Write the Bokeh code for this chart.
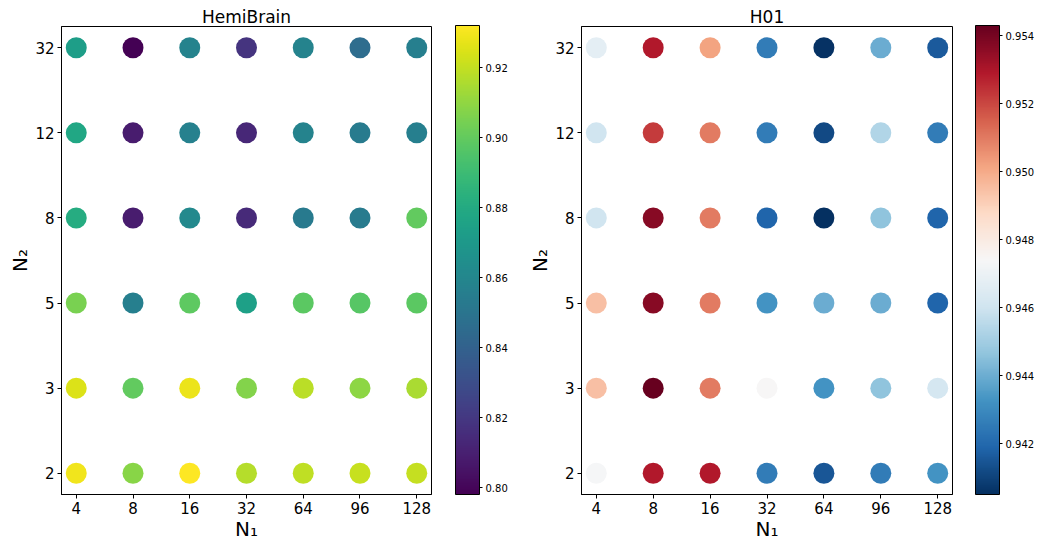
import numpy as np
from bokeh.plotting import figure
from bokeh.models import (LinearColorMapper, ColorBar, FixedTicker,
                          PrintfTickFormatter, ColumnDataSource, Range1d)
from bokeh.layouts import row
from bokeh.palettes import Viridis256
from bokeh.embed import file_html
from bokeh.resources import INLINE

n1_labels = ["4", "8", "16", "32", "64", "96", "128"]
n2_labels = ["2", "3", "5", "8", "12", "32"]

# HemiBrain values, one list per N2 row (columns follow n1_labels)
hemi_n2_32 = [0.873, 0.798, 0.858, 0.818, 0.858, 0.846, 0.856]
hemi_n2_12 = [0.878, 0.808, 0.857, 0.813, 0.858, 0.854, 0.856]
hemi_n2_8 = [0.881, 0.808, 0.861, 0.814, 0.853, 0.854, 0.900]
hemi_n2_5 = [0.905, 0.856, 0.899, 0.874, 0.898, 0.897, 0.898]
hemi_n2_3 = [0.925, 0.900, 0.928, 0.907, 0.918, 0.909, 0.915]
hemi_n2_2 = [0.929, 0.908, 0.932, 0.917, 0.919, 0.921, 0.920]

# H01 values, one list per N2 row
h01_n2_32 = [0.9467, 0.9529, 0.9502, 0.9426, 0.9406, 0.9440, 0.9416]
h01_n2_12 = [0.9460, 0.9522, 0.9510, 0.9426, 0.9412, 0.9453, 0.9426]
h01_n2_8 = [0.9460, 0.9537, 0.9510, 0.9419, 0.9405, 0.9446, 0.9419]
h01_n2_5 = [0.9495, 0.9537, 0.9510, 0.9433, 0.9440, 0.9440, 0.9419]
h01_n2_3 = [0.9495, 0.9543, 0.9510, 0.9474, 0.9433, 0.9446, 0.9462]
h01_n2_2 = [0.9473, 0.9529, 0.9529, 0.9426, 0.9415, 0.9426, 0.9433]

hemi_ticks = [0.80, 0.82, 0.84, 0.86, 0.88, 0.90, 0.92]
h01_ticks = [0.942, 0.944, 0.946, 0.948, 0.950, 0.952, 0.954]

hemi_rows = {"2": hemi_n2_2, "3": hemi_n2_3, "5": hemi_n2_5,
             "8": hemi_n2_8, "12": hemi_n2_12, "32": hemi_n2_32}
h01_rows = {"2": h01_n2_2, "3": h01_n2_3, "5": h01_n2_5,
            "8": h01_n2_8, "12": h01_n2_12, "32": h01_n2_32}

# RdBu_r palette interpolated to 256 colours
rdbu_r_base = ["#053061", "#2166ac", "#4393c3", "#92c5de", "#d1e5f0", "#f7f7f7",
               "#fddbc7", "#f4a582", "#d6604d", "#b2182b", "#67001f"]


def interp(base, n=256):
    rgb = np.array([[int(c[i:i + 2], 16) for i in (1, 3, 5)] for c in base], float)
    t = np.linspace(0, 1, len(base))
    tt = np.linspace(0, 1, n)
    out = []
    for v in tt:
        r, g, b = (np.interp(v, t, rgb[:, k]) for k in range(3))
        out.append("#%02x%02x%02x" % (int(round(r)), int(round(g)), int(round(b))))
    return out


RdBu_r256 = interp(rdbu_r_base)

FONT = "DejaVu Sans"
W, H = 519, 543
TOP, BOTTOM = 26, 48


def make_panel(title, rows, palette, low, high, ticks, fmt, border_left, border_right, cb_off):
    xs, ys, vals = [], [], []
    for j, n2 in enumerate(n2_labels):
        for i, v in enumerate(rows[n2]):
            xs.append(i)
            ys.append(j)
            vals.append(v)
    src = ColumnDataSource(dict(x=xs, y=ys, v=vals))
    mapper = LinearColorMapper(palette=palette, low=low, high=high)

    nx, ny = len(n1_labels), len(n2_labels)
    p = figure(x_range=Range1d(-0.26, nx - 1 + 0.26),
               y_range=Range1d(-0.25, ny - 1 + 0.25),
               width=W, height=H,
               min_border_left=border_left, min_border_top=TOP,
               min_border_bottom=BOTTOM, min_border_right=border_right,
               output_backend="svg", toolbar_location=None,
               title=title)
    p.scatter("x", "y", source=src, size=21, line_color=None,
              fill_color={"field": "v", "transform": mapper})

    p.title.text_font = FONT
    p.title.text_font_size = "17px"
    p.title.text_font_style = "normal"
    p.title.align = "center"
    p.title.text_color = "black"
    p.title.standoff = 0

    p.xgrid.visible = False
    p.ygrid.visible = False
    p.outline_line_color = "black"
    p.outline_line_width = 1

    p.xaxis.ticker = FixedTicker(ticks=list(range(nx)))
    p.xaxis.major_label_overrides = {i: s for i, s in enumerate(n1_labels)}
    p.yaxis.ticker = FixedTicker(ticks=list(range(ny)))
    p.yaxis.major_label_overrides = {j: s for j, s in enumerate(n2_labels)}

    for ax, lab in ((p.xaxis, "N\u2081"), (p.yaxis, "N\u2082")):
        ax.axis_label = lab
        ax.axis_label_text_font = FONT
        ax.axis_label_text_font_size = "20px"
        ax.axis_label_text_font_style = "normal"
        ax.axis_label_text_color = "black"
        ax.major_label_text_font = FONT
        ax.major_label_text_font_size = "15px"
        ax.major_label_text_color = "black"
        ax.axis_line_color = "black"
        ax.major_tick_line_color = "black"
        ax.major_tick_in = 0
        ax.major_tick_out = 4
        ax.minor_tick_line_color = None
        ax.major_label_standoff = 3
        ax.axis_label_standoff = 0

    frame_w = W - border_left - border_right
    frame_h = H - TOP - BOTTOM
    cb = ColorBar(color_mapper=mapper, ticker=FixedTicker(ticks=ticks),
                  formatter=PrintfTickFormatter(format=fmt),
                  width=24, height=frame_h, padding=0, margin=0,
                  location=(frame_w + cb_off, 0),
                  bar_line_color="black", bar_line_width=1,
                  background_fill_color=None, border_line_color=None,
                  major_tick_line_color="black", major_tick_in=0, major_tick_out=3,
                  minor_tick_line_color=None,
                  major_label_text_font=FONT, major_label_text_font_size="10px",
                  major_label_text_color="black", label_standoff=3)
    p.add_layout(cb, "center")
    return p


p1 = make_panel("HemiBrain", hemi_rows, Viridis256, 0.798, 0.932, hemi_ticks, "%.2f", 61, 88, 24)
p2 = make_panel("H01", h01_rows, RdBu_r256, 0.9405, 0.9543, h01_ticks, "%.3f", 62, 86, 23)

layout = row(p1, p2)
open("out.html", "w").write(file_html(layout, INLINE))
